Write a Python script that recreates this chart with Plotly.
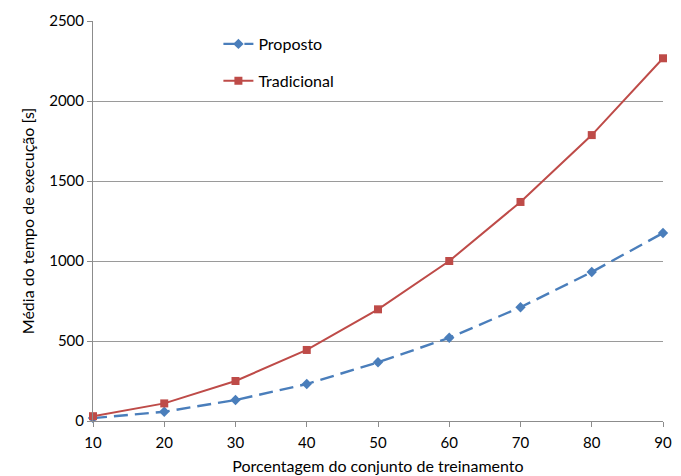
import plotly.graph_objects as go

# Percentage of the training set used
porcentagem = [10, 20, 30, 40, 50, 60, 70, 80, 90]
# Mean execution time in seconds
proposto = [18, 58, 131, 231, 367, 520, 711, 931, 1175]
tradicional = [30, 110, 250, 444, 698, 1000, 1369, 1787, 2267]

y_ticks = [0, 500, 1000, 1500, 2000, 2500]
x_ticks = [10, 20, 30, 40, 50, 60, 70, 80, 90]

font_family = "Lato, 'Open Sans', sans-serif"

fig = go.Figure()
fig.add_trace(go.Scatter(
    x=porcentagem, y=proposto, name="Proposto", mode="lines+markers",
    line=dict(color="#4a7ebb", width=2.4, dash="14px,7px"),
    marker=dict(symbol="diamond", size=8, color="#4a7ebb"),
    legendgroup="a", cliponaxis=False,
))
fig.add_trace(go.Scatter(
    x=porcentagem, y=tradicional, name="Tradicional", mode="lines+markers",
    line=dict(color="#be4b48", width=2),
    marker=dict(symbol="square", size=8, color="#be4b48"),
    legendgroup="b", cliponaxis=False,
))

fig.update_layout(
    width=681, height=476,
    margin=dict(l=93, r=18, t=21, b=55),
    paper_bgcolor="white", plot_bgcolor="white",
    font=dict(family=font_family, size=15, color="#000000"),
    showlegend=True,
    legend=dict(
        x=0.22, y=0.985, xanchor="left", yanchor="top",
        bgcolor="rgba(0,0,0,0)", font=dict(size=16),
        traceorder="grouped", tracegroupgap=13, itemwidth=30,
    ),
    xaxis=dict(
        range=[10, 90], tickvals=x_ticks, ticks="outside", ticklen=5,
        tickcolor="#8c8c8c", showline=True, linecolor="#8c8c8c", linewidth=1,
        showgrid=False, zeroline=False, tickfont=dict(size=15),
        ticklabelstandoff=3, automargin=False,
        title=dict(text="Porcentagem do conjunto de treinamento", standoff=10,
                   font=dict(size=16)),
    ),
    yaxis=dict(
        range=[0, 2500], tickvals=y_ticks, ticks="outside", ticklen=5,
        tickcolor="#8c8c8c", showline=True, linecolor="#8c8c8c", linewidth=1,
        showgrid=True, gridcolor="#9a9a9a", gridwidth=1, zeroline=False,
        tickfont=dict(size=15), automargin=False,
        title=dict(text="Média do tempo de execução [s]", standoff=10,
                   font=dict(size=16)),
    ),
)

fig.write_html("out.html")
